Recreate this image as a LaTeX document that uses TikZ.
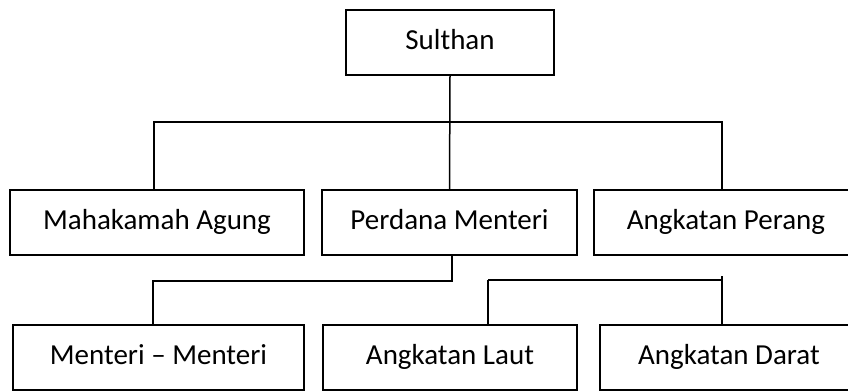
\documentclass[tikz,border=0pt]{standalone}
\usepackage{fontspec}
\setmainfont{Carlito}
\usetikzlibrary{positioning,calc}
\tikzset{
    jabatan/.style={draw,line width=1.3pt,align=center,minimum height=65pt,inner sep=0pt,
        text height=20pt,text depth=6pt,font=\fontsize{29}{34}\selectfont},
    garis/.style={line width=1.5pt}
}

\begin{document}
\begin{tikzpicture}[x=1pt,y=-1pt]

    \def\xLeft{157}
    \def\xCentre{450}
    \def\xRight{726}
    \def\yTop{42.5}
    \def\yMid{222.5}
    \def\yBottom{357.5}
    \def\yBranch{122}

    \clip (0,0) rectangle (848,391);

    \node
        [jabatan,minimum width=208pt]
        at (\xCentre,\yTop)
        (sulthan) {Sulthan};
    \node
        [jabatan,minimum width=294pt]
        at (\xLeft,\yMid)
        (mahkamah) {Mahakamah Agung};
    \node
        [jabatan,minimum width=255pt]
        at (449.5,\yMid)
        (perdana) {Perdana Menteri};
    \node
        [jabatan,minimum width=264pt]
        at (\xRight,\yMid)
        (perang) {Angkatan Perang};
    \node
        [jabatan,minimum width=291pt]
        at (158.5,\yBottom)
        (menteri) {Menteri -- Menteri};
    \node
        [jabatan,minimum width=254pt]
        at (450,\yBottom)
        (laut) {Angkatan Laut};
    \node
        [jabatan,minimum width=258pt]
        at (729,\yBottom)
        (darat) {Angkatan Darat};

    \coordinate (cabang) at (\xCentre,\yBranch);
    \coordinate (bawahPM) at (452,281);
    \coordinate (kiriMenteri) at (153,281);
    \coordinate (kiriLaut) at (488,280);
    \coordinate (atasDarat) at (722,276);

    \draw[garis] (sulthan.south) -- (perdana.north);
    \draw[garis] ([xshift=-3pt]mahkamah.north) |- (cabang) -| ([xshift=-4pt]perang.north);
    \draw[garis] (perdana.south -| bawahPM) -- (bawahPM) -- (kiriMenteri) -- (kiriMenteri |- menteri.north);
    \draw[garis] (kiriLaut) -- (kiriLaut |- laut.north);
    \draw[garis] (kiriLaut) -- (kiriLaut -| atasDarat);
    \draw[garis] (atasDarat) -- (atasDarat |- darat.north);

\end{tikzpicture}
\end{document}
